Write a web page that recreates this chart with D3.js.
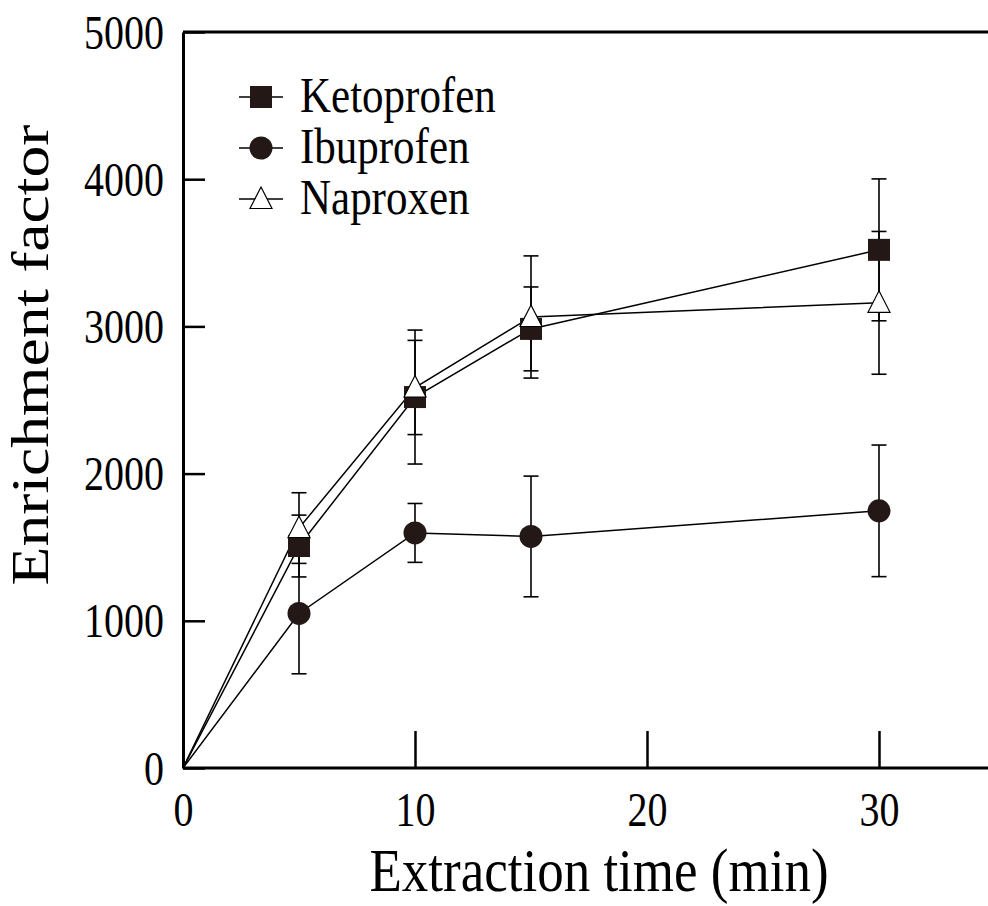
<!DOCTYPE html>
<html lang="en">
  <head>
    <meta charset="utf-8">
    <title>Enrichment factor vs extraction time</title>
    <script src="https://d3js.org/d3.v7.min.js"></script>
    <style>
      body { margin: 0; background: #fff; }
      text { font-family: "Liberation Serif", "Times New Roman", serif; fill: #000; }
    </style>
  </head>
  <body>
    <script type="text/javascript">
    // Data
    var times = [0, 5, 10, 15, 30];
    var seriesNames = ["Ketoprofen", "Ibuprofen", "Naproxen"];
    var ketoprofen = [0, 1508, 2520, 2983, 3520];
    var ketoprofenErr = [0, 210, 455, 285, 482];
    var ibuprofen = [0, 1050, 1597, 1573, 1747];
    var ibuprofenErr = [0, 410, 200, 410, 447];
    var naproxen = [0, 1630, 2585, 3064, 3160];
    var naproxenErr = [0, 240, 320, 415, 485];
    var xTicks = [0, 10, 20, 30];
    var yTicks = [0, 1000, 2000, 3000, 4000, 5000];

    var w = 988;
    var h = 906;
    var stretch = 1.2;
    var markFill = "#231815";

    var svg = d3.select("body")
                .append("svg")
                .attr("width", w)
                .attr("height", h)
    ;

    var xScale = d3.scaleLinear()
                   .domain([0, 35])
                   .range([183, 995])
    ;
    var yScale = d3.scaleLinear()
                   .domain([0, 5000])
                   .range([768, 32])
    ;

    var toPoints = function(vals, errs) {
      return times.map(function(t, i) { return { t: t, v: vals[i], e: errs[i] }; });
    };
    var series = [
      { name: seriesNames[0], shape: "square", data: toPoints(ketoprofen, ketoprofenErr) },
      { name: seriesNames[1], shape: "circle", data: toPoints(ibuprofen, ibuprofenErr) },
      { name: seriesNames[2], shape: "triangle", data: toPoints(naproxen, naproxenErr) }
    ];

    // frame: top border line
    svg.append("line")
       .attr("x1", xScale(0)).attr("x2", w)
       .attr("y1", yScale(5000)).attr("y2", yScale(5000))
       .attr("stroke", "#000").attr("stroke-width", 3)
    ;

    var xAxis = d3.axisBottom(xScale)
                  .tickValues(xTicks)
                  .tickSize(-37)
                  .tickSizeOuter(0)
                  .tickFormat(d3.format("d"))
    ;
    var yAxis = d3.axisLeft(yScale)
                  .tickValues(yTicks)
                  .tickSize(-22)
                  .tickSizeOuter(0)
                  .tickFormat(d3.format("d"))
    ;

    var gx = svg.append("g")
                .attr("transform", "translate(0," + yScale(0) + ")")
                .call(xAxis)
    ;
    gx.select(".domain").attr("stroke-width", 3).attr("d", "M" + xScale(0) + ",0H" + w);
    gx.selectAll(".tick line").attr("stroke-width", 2.5);
    gx.selectAll(".tick text")
      .attr("y", 0).attr("dy", null)
      .attr("font-size", 40)
      .attr("font-family", "Liberation Serif")
      .attr("transform", "translate(0,58) scale(1," + stretch + ")")
    ;

    var gy = svg.append("g")
                .attr("transform", "translate(" + xScale(0) + ",0)")
                .call(yAxis)
    ;
    gy.select(".domain").attr("stroke-width", 3);
    gy.selectAll(".tick line").attr("stroke-width", 2.5);
    gy.selectAll(".tick text")
      .attr("x", 0).attr("dy", null)
      .attr("font-size", 40)
      .attr("font-family", "Liberation Serif")
      .attr("transform", "translate(-19,16) scale(1," + stretch + ")")
    ;

    // axis titles
    svg.append("text")
       .attr("text-anchor", "middle")
       .attr("font-size", 53)
       .attr("transform", "translate(599,891) scale(1,1.15)")
       .text("Extraction time (min)")
    ;
    svg.append("text")
       .attr("text-anchor", "middle")
       .attr("font-size", 53)
       .attr("transform", "translate(48,355) rotate(-90) scale(" + stretch + ",1)")
       .text("Enrichment factor")
    ;

    var line = d3.line()
                 .x(function(d) { return xScale(d.t); })
                 .y(function(d) { return yScale(d.v); })
    ;

    svg.selectAll("path.series")
       .data(series)
       .enter()
       .append("path")
       .attr("class", "series")
       .attr("d", function(s) { return line(s.data); })
       .attr("fill", "none")
       .attr("stroke", "#000")
       .attr("stroke-width", 1.5)
    ;

    // error bars
    var errG = svg.append("g");
    series.forEach(function(s) {
      var pts = s.data.filter(function(d) { return d.e > 0; });
      errG.selectAll(null).data(pts).enter().append("line")
          .attr("x1", function(d) { return xScale(d.t); })
          .attr("x2", function(d) { return xScale(d.t); })
          .attr("y1", function(d) { return yScale(d.v - d.e); })
          .attr("y2", function(d) { return yScale(d.v + d.e); })
          .attr("stroke", "#000").attr("stroke-width", 1.6)
      ;
      [-1, 1].forEach(function(sign) {
        errG.selectAll(null).data(pts).enter().append("line")
            .attr("x1", function(d) { return xScale(d.t) - 7.5; })
            .attr("x2", function(d) { return xScale(d.t) + 7.5; })
            .attr("y1", function(d) { return yScale(d.v + sign * d.e); })
            .attr("y2", function(d) { return yScale(d.v + sign * d.e); })
            .attr("stroke", "#000").attr("stroke-width", 1.6)
        ;
      });
    });

    var drawMarker = function(g, shape) {
      if (shape === "square") {
        g.append("rect")
         .attr("x", -11).attr("y", -11).attr("width", 22).attr("height", 22)
         .attr("fill", markFill)
        ;
      } else if (shape === "circle") {
        g.append("circle")
         .attr("r", 11.5)
         .attr("fill", markFill)
        ;
      } else {
        g.append("path")
         .attr("d", "M0,-12L11,9.5L-11,9.5Z")
         .attr("fill", "#fff")
         .attr("stroke", "#000")
         .attr("stroke-width", 1.2)
        ;
      }
    };

    series.forEach(function(s) {
      svg.selectAll(null)
         .data(s.data.filter(function(d) { return d.t > 0; }))
         .enter()
         .append("g")
         .attr("transform", function(d) { return "translate(" + xScale(d.t) + "," + yScale(d.v) + ")"; })
         .each(function() { drawMarker(d3.select(this), s.shape); })
      ;
    });

    // legend
    var legendY = d3.scalePoint().domain(seriesNames).range([97, 199]);
    var legend = svg.selectAll("g.legend")
                    .data(series)
                    .enter()
                    .append("g")
                    .attr("class", "legend")
                    .attr("transform", function(s) { return "translate(261," + legendY(s.name) + ")"; })
    ;
    legend.append("line")
          .attr("x1", -22).attr("x2", 22)
          .attr("stroke", "#000").attr("stroke-width", 1.5)
    ;
    legend.each(function(s) { drawMarker(d3.select(this), s.shape); });
    legend.append("text")
          .attr("font-size", 43)
          .attr("transform", "translate(39,15) scale(1," + stretch + ")")
          .text(function(s) { return s.name; })
    ;
    </script>
  </body>
</html>
